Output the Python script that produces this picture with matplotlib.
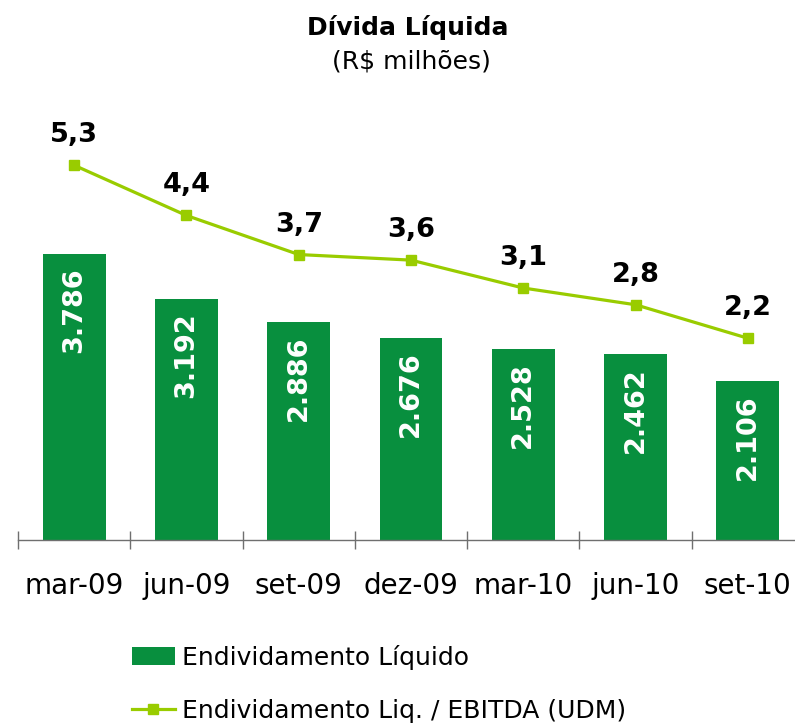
import numpy as np
import matplotlib
matplotlib.use("Agg")
import matplotlib.pyplot as plt
from matplotlib.ticker import FixedLocator

# dados
trimestres = ["mar-09", "jun-09", "set-09", "dez-09", "mar-10", "jun-10", "set-10"]
divida = [3786, 3192, 2886, 2676, 2528, 2462, 2106]          # R$ milhões
divida_txt = ["3.786", "3.192", "2.886", "2.676", "2.528", "2.462", "2.106"]
alavancagem = [5.3, 4.4, 3.7, 3.6, 3.1, 2.8, 2.2]            # Div. Liq. / EBITDA
alav_txt = ["5,3", "4,4", "3,7", "3,6", "3,1", "2,8", "2,2"]

VERDE = "#088f3e"
VERDE_CLARO = "#99cc00"

plt.rcParams['font.family'] = ['DejaVu Sans']

W, H = 795, 728
fig = plt.figure(figsize=(W / 100, H / 100), dpi=100)
# eixo: de x=18 a x=804 px, y de 100 a 540 px
ax = fig.add_axes([18 / W, 1 - 540 / H, 786 / W, 440 / H])
ax2 = ax.twinx()

x = np.arange(len(trimestres))
barras = ax.bar(x, divida, width=0.56, color=VERDE, label="Endividamento Líquido", zorder=2)
for xi, v, t in zip(x, divida, divida_txt):
    ax.annotate(t, (xi, v), xytext=(0, -13), textcoords="offset pixels",
                ha="center", va="top", rotation=90, color="white",
                fontsize=19.5, fontweight="bold")

linha, = ax2.plot(x, alavancagem, color=VERDE_CLARO, lw=2.3, marker="s", ms=7.5,
                  label="Endividamento Liq. / EBITDA (UDM)", zorder=3)
for xi, v, t in zip(x, alavancagem, alav_txt):
    ax2.annotate(t, (xi, v), xytext=(0, 23), textcoords="offset pixels",
                 ha="center", va="baseline", color="black",
                 fontsize=19.5, fontweight="bold")

ax.set_xlim(-0.5, 6.5)
ax.set_ylim(0, 440 / 0.0755)
ax2.set_ylim(-(540 - 461) / 55.8, (461 - 100) / 55.8)

for a in (ax, ax2):
    for s in ("top", "left", "right"):
        a.spines[s].set_visible(False)
    a.set_yticks([])
ax2.spines["bottom"].set_visible(False)
ax.spines["bottom"].set_color("#6f6f6f")
ax.spines["bottom"].set_linewidth(1.0)

ax.set_xticks(x)
ax.set_xticklabels(trimestres, fontsize=20)
ax.tick_params(axis="x", which="major", length=0, pad=23)
ax.xaxis.set_minor_locator(FixedLocator(np.arange(-0.5, 7, 1)))
ax.tick_params(axis="x", which="minor", direction="inout", length=13, width=1.0, color="#6f6f6f")

fig.text(408 / W, 1 - 35 / H, "Dívida Líquida", ha="center", va="baseline",
         fontsize=18, fontweight="bold")
fig.text(411 / W, 1 - 69 / H, "(R$ milhões)", ha="center", va="baseline", fontsize=18)

fig.legend([barras, linha], [barras.get_label(), linha.get_label()],
           loc="upper left", bbox_to_anchor=(132 / W, 1 - 645 / H),
           frameon=False, fontsize=18, borderpad=0, borderaxespad=0,
           handlelength=1.7, handleheight=0.72, handletextpad=0.3,
           labelspacing=1.17, numpoints=1)

fig.savefig("out.png", dpi=100)
